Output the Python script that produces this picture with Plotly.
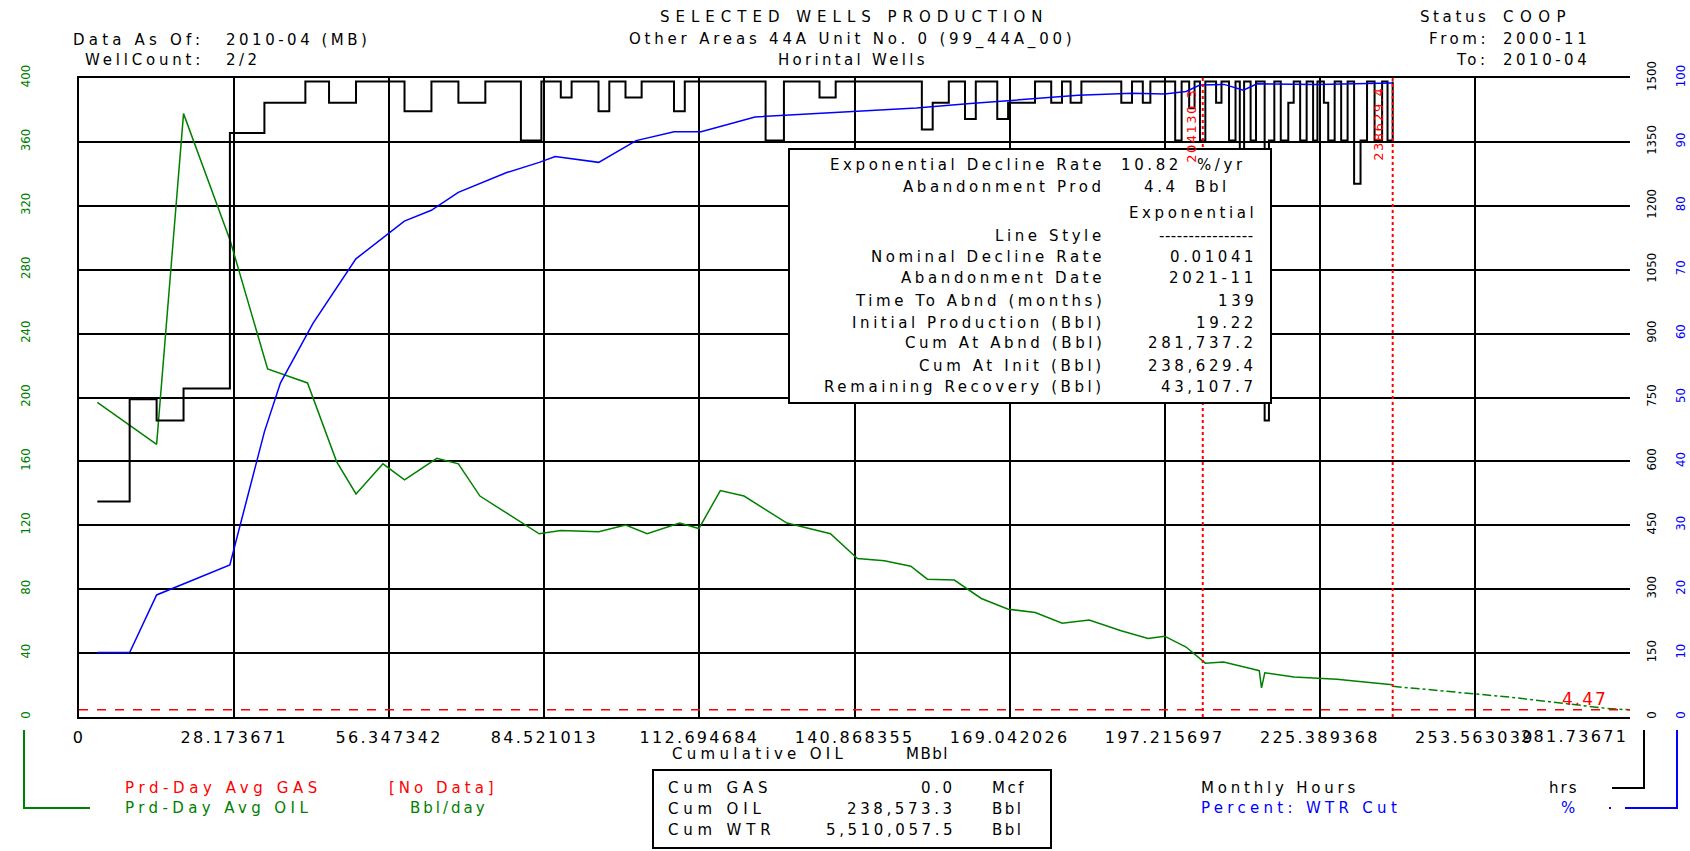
import plotly.graph_objects as go

# ---------------- data ----------------
x_tick_vals = [0, 28.173671, 56.347342, 84.521013, 112.694684, 140.868355,
               169.042026, 197.215697, 225.389368, 253.563039, 281.73671]
x_tick_text = ["0", "28.173671", "56.347342", "84.521013", "112.694684", "140.868355",
               "169.042026", "197.215697", "225.389368", "253.563039", "281.73671"]
oil_ticks = [0, 40, 80, 120, 160, 200, 240, 280, 320, 360, 400]
hrs_ticks = [0, 150, 300, 450, 600, 750, 900, 1050, 1200, 1350, 1500]
wcut_ticks = [0, 10, 20, 30, 40, 50, 60, 70, 80, 90, 100]

# Prd-Day Avg OIL (Bbl/day) vs cumulative oil (MBbl)
oil_cum = [3.33, 14.10, 18.99, 27.41, 34.26, 41.51, 46.79, 50.32, 55.21, 59.13, 65.0, 68.92,
           72.83, 83.6, 87.5, 94.4, 99.3, 103.2, 109.1, 112.6, 116.5, 120.8, 128.6, 136.5,
           141.4, 146.3, 151.1, 154.1, 159.0, 163.9, 168.8, 173.7, 178.6, 183.5, 189.3,
           194.2, 197.2, 201.1, 204.6, 207.9, 212.8, 214.4, 214.8, 215.4, 220.7, 228.5,
           234.4, 238.6]
oil_rate = [197.0, 170.7, 377.7, 298.8, 217.9, 209.1, 159.9, 139.6, 158.5, 148.4, 161.9, 158.5,
            138.3, 114.7, 116.7, 116.0, 120.1, 114.7, 121.4, 118.0, 141.7, 138.3, 121.4, 114.7,
            99.2, 97.8, 94.4, 86.3, 85.7, 74.2, 67.5, 65.4, 58.7, 60.7, 54.0,
            49.2, 50.6, 43.8, 33.7, 34.4, 30.4, 29.0, 18.2, 27.7, 25.0, 23.6,
            21.6, 20.2]

# Exponential forecast
fc_cum = [238.63, 260.0, 277.5, 281.74]
fc_rate = [19.22, 12.4, 5.4, 4.47]

# Percent WTR cut
wc_cum = [3.33, 9.2, 14.1, 27.4, 33.7, 36.6, 42.5, 50.3, 59.1, 64.0, 68.9, 77.7, 83.6, 86.5,
          94.4, 101.2, 108.1, 113.0, 122.8, 132.5, 142.3, 152.1, 161.9, 171.7, 181.5, 191.3,
          197.2, 201.1, 203.6, 208.0, 211.5, 214.0, 225.0, 238.6]
wc_pct = [10.1, 10.1, 19.1, 23.8, 44.7, 52.3, 61.6, 71.7, 77.6, 79.3, 82.1, 85.2, 86.8, 87.7,
          86.8, 90.2, 91.6, 91.6, 93.9, 94.4, 94.9, 95.3, 96.0, 96.6, 97.3, 97.6,
          97.5, 97.9, 98.9, 99.0, 98.1, 99.1, 99.0, 99.2]

# Monthly hours (step)
hr_cum = [3.33, 9.20, 14.10, 18.99, 27.41, 33.68, 41.12, 45.42, 50.32, 59.13, 64.02, 68.92,
          73.81, 80.27, 83.99, 87.52, 89.48, 94.37, 96.33, 99.27, 102.20, 108.08, 110.04,
          124.72, 128.05, 134.51, 137.45, 153.1, 155.07, 158.0, 160.94, 162.9, 166.8, 168.77,
          173.66, 176.6, 178.56, 180.12, 182.08, 189.33, 191.28, 193.24, 194.61,
          199.12, 200.29, 201.66, 202.64, 203.62, 204.60, 206.55, 207.53, 208.90, 210.08,
          210.86, 211.64, 212.82, 213.80, 215.37, 216.15, 217.13, 218.30, 219.67, 220.65,
          221.82, 223.00, 224.17, 224.96, 226.13, 226.92, 228.09, 229.27, 230.44, 231.62,
          232.79, 233.97, 235.34, 236.71, 237.69, 238.63]
hr_val = [506, 746, 696, 771, 1371, 1442, 1492, 1442, 1492, 1422, 1492, 1442,
          1492, 1353, 1492, 1454, 1492, 1422, 1492, 1454, 1492, 1422, 1492,
          1353, 1492, 1454, 1492, 1379, 1442, 1492, 1404, 1492, 1404, 1442,
          1492, 1442, 1492, 1442, 1492, 1442, 1492, 1442, 1492,
          1353, 1492, 1429, 1492, 1353, 1492, 1442, 1492, 1353, 1492,
          1252, 1492, 1353, 1492, 696, 1353, 1492, 1353, 1442, 1492,
          1353, 1492, 1353, 1492, 1442, 1353, 1492, 1353, 1492, 1252,
          1353, 1492, 1353, 1492, 1353, 1492]

abnd_rate = 4.47
cum_at_init = 238.629
cum_marker = 204.13
x_max = 281.73671

# ---------------- geometry helpers (layout only) ----------------
W, H = 1690, 851
L, R, T, B = 79, 1630, 78, 717
def px(x):
    return (x - L) / (R - L)
def py(y):
    return (B - y) / (B - T)

FONT = "DejaVu Sans"
GREEN = "#008000"
BLUE = "#0000ff"
RED = "#ff0000"

def sp(s, ls):
    return f'<span style="letter-spacing:{ls}px">{s}</span>'

fig = go.Figure()
fig.add_trace(go.Scatter(x=hr_cum, y=hr_val, mode="lines", line=dict(color="black", width=2, shape="hv"),
                         yaxis="y2", name="Monthly Hours"))
fig.add_trace(go.Scatter(x=wc_cum, y=wc_pct, mode="lines", line=dict(color=BLUE, width=1.5),
                         yaxis="y3", name="Percent: WTR Cut"))
fig.add_trace(go.Scatter(x=oil_cum, y=oil_rate, mode="lines", line=dict(color=GREEN, width=1.5),
                         yaxis="y", name="Prd-Day Avg OIL"))
fig.add_trace(go.Scatter(x=fc_cum, y=fc_rate, mode="lines", line=dict(color=GREEN, width=1.5, dash="dashdot"),
                         yaxis="y", name="Exponential"))

shapes = []
shapes.append(dict(type="line", xref="x", yref="y", x0=0, x1=x_max, y0=abnd_rate, y1=abnd_rate,
                   line=dict(color=RED, width=1.5, dash="dash")))
for xv in [cum_marker, cum_at_init]:
    shapes.append(dict(type="line", xref="x", yref="paper", x0=xv, x1=xv, y0=0, y1=1,
                       line=dict(color=RED, width=2, dash="dot")))
shapes.append(dict(type="rect", xref="paper", yref="paper", x0=px(789), x1=px(1271), y0=py(403), y1=py(149),
                   fillcolor="white", line=dict(color="black", width=2), layer="above"))
shapes.append(dict(type="rect", xref="paper", yref="paper", x0=px(653), x1=px(1051), y0=py(848), y1=py(770),
                   fillcolor="white", line=dict(color="black", width=2)))
shapes.append(dict(type="path", xref="paper", yref="paper",
                   path=f"M {px(24)},{py(730)} L {px(24)},{py(808)} L {px(90)},{py(808)}",
                   line=dict(color=GREEN, width=2)))
shapes.append(dict(type="path", xref="paper", yref="paper",
                   path=f"M {px(1644)},{py(730)} L {px(1644)},{py(788)} L {px(1612)},{py(788)}",
                   line=dict(color="black", width=2)))
shapes.append(dict(type="path", xref="paper", yref="paper",
                   path=f"M {px(1677)},{py(730)} L {px(1677)},{py(808)} L {px(1625)},{py(808)}",
                   line=dict(color=BLUE, width=2)))
shapes.append(dict(type="line", xref="paper", yref="paper", x0=px(1609), x1=px(1611), y0=py(808), y1=py(808),
                   line=dict(color=BLUE, width=2)))

ann = []
def text(x, y, s, anchor="left", color="black", size=15, angle=0, ls=3.6):
    if anchor == "right":
        x = x + 2 + ls
    elif anchor == "center":
        x = x + ls / 2
    else:
        x = x - 2
    ann.append(dict(x=px(x), y=py(y), xref="paper", yref="paper", text=sp(s, ls) if ls else s,
                    showarrow=False, xanchor=anchor, yanchor="middle", textangle=angle,
                    font=dict(family=FONT, size=size, color=color)))

# header
text(200, 40, "Data As Of:", "right", ls=4.2)
text(226, 40, "2010-04 (MB)", ls=3.5)
text(200, 60, "WellCount:", "right", ls=3.8)
text(226, 60, "2/2", ls=3.5)
text(851, 17, "SELECTED WELLS PRODUCTION", "center", ls=6.0)
text(851, 39.5, "Other Areas 44A Unit No. 0 (99_44A_00)", "center", ls=3.8)
text(851, 60, "Horintal Wells", "center", ls=3.3)
text(1485, 17, "Status", "right", ls=3.6)
text(1503, 17, "COOP", ls=6.5)
text(1485, 39.5, "From:", "right", ls=3.6)
text(1503, 39.5, "2000-11", ls=3.5)
text(1485, 60, "To:", "right", ls=3.6)
text(1503, 60, "2010-04", ls=3.5)

# info box
rows = [
    ("Exponential Decline Rate", 165), ("Abandonment Prod", 186.7), ("Line Style", 236),
    ("Nominal Decline Rate", 257.3), ("Abandonment Date", 278.3), ("Time To Abnd (months)", 301),
    ("Initial Production (Bbl)", 322.7), ("Cum At Abnd (Bbl)", 343.3), ("Cum At Init (Bbl)", 366),
    ("Remaining Recovery (Bbl)", 387.3),
]
for lab, yy in rows:
    text(1101, yy, lab, "right")
text(1178, 165, "10.82", "right")
text(1197, 165, "%/yr")
text(1175, 186.7, "4.4", "right")
text(1195, 186.7, "Bbl")
vals = [("Exponential", 212.7), ("----------------", 236), ("0.01041", 257.3), ("2021-11", 278.3),
        ("139", 301), ("19.22", 322.7), ("281,737.2", 343.3), ("238,629.4", 366), ("43,107.7", 387.3)]
for v, yy in vals:
    text(1253, yy, v, "right", ls=(0.5 if v.startswith("-") else 3.6))

# red annotations
text(1191, 126, "204130.3", "center", RED, 13, -90, ls=1.5)
text(1377, 124, "238629.4", "center", RED, 13, -90, ls=1.5)
ann.append(dict(x=273.5, y=11.5, xref="x", yref="y", text=sp("4.47", 2), showarrow=False,
                font=dict(family=FONT, size=17, color=RED)))
# last x tick label is right-aligned to the plot edge
ann.append(dict(x=x_max, y=0, xref="x", yref="paper", yshift=-19, text=sp(x_tick_text[-1], 2.3),
                showarrow=False, xanchor="right", yanchor="middle",
                font=dict(family=FONT, size=16, color="black")))

# bottom
text(672, 754, "Cumulative OIL", ls=4.3)
text(906, 754, "MBbl", ls=1.5)
for lab, v, u, yy in [("Cum GAS", "0.0", "Mcf", 788), ("Cum OIL", "238,573.3", "Bbl", 809),
                      ("Cum WTR", "5,510,057.5", "Bbl", 830)]:
    text(668, yy, lab, ls=4.8)
    text(952, yy, v, "right", ls=3.6)
    text(992, yy, u, ls=2.5)
text(125, 788, "Prd-Day Avg GAS", color=RED, ls=4.6)
text(389, 788, "[No Data]", color=RED, ls=4.0)
text(125, 808, "Prd-Day Avg OIL", color=GREEN, ls=4.4)
text(410, 808, "Bbl/day", color=GREEN, ls=3.0)
text(1201, 788, "Monthly Hours", ls=3.8)
text(1549, 788, "hrs", ls=2.0)
text(1201, 808, "Percent: WTR Cut", color=BLUE, ls=4.3)
text(1561, 808, "%", color=BLUE, ls=0)

tick_text_sp = [sp(t, 2.3) for t in x_tick_text[:-1]] + [""]

fig.update_layout(
    width=W, height=H, autosize=False,
    margin=dict(l=L, r=W - R, t=T, b=H - B, pad=0, autoexpand=False),
    paper_bgcolor="white", plot_bgcolor="white",
    showlegend=False,
    font=dict(family=FONT, size=15, color="black"),
    xaxis=dict(range=[0, x_max], tickvals=x_tick_vals, ticktext=tick_text_sp, automargin=False,
               showgrid=True, gridcolor="black", gridwidth=1.8,
               showline=True, linecolor="black", linewidth=2, mirror=True,
               zeroline=False, ticks="", tickfont=dict(size=16, color="black"), ticklabelstandoff=5),
    yaxis=dict(range=[0, 400], tickvals=oil_ticks, showgrid=True, gridcolor="black", gridwidth=1.8,
               showline=True, linecolor="black", linewidth=2, zeroline=False, ticks="", automargin=False,
               tickangle=-90, tickfont=dict(size=13, color=GREEN, family="DejaVu Sans Condensed"),
               ticklabelstandoff=42),
    yaxis2=dict(range=[0, 1500], tickvals=hrs_ticks, overlaying="y", side="right", anchor="x",
                showgrid=False, zeroline=False, ticks="", showline=False, automargin=False,
                tickangle=-90, tickfont=dict(size=13, color="black", family="DejaVu Sans Condensed"),
                ticklabelstandoff=12),
    yaxis3=dict(range=[0, 100], tickvals=wcut_ticks, overlaying="y", side="right", anchor="x",
                showgrid=False, zeroline=False, ticks="", showline=False, automargin=False,
                tickangle=-90, tickfont=dict(size=13, color=BLUE, family="DejaVu Sans Condensed"),
                ticklabelstandoff=41),
    shapes=shapes, annotations=ann,
)

fig.write_html("out.html", config={"displayModeBar": False},
               post_script="document.body.style.margin='0';document.body.style.overflow='hidden';")
